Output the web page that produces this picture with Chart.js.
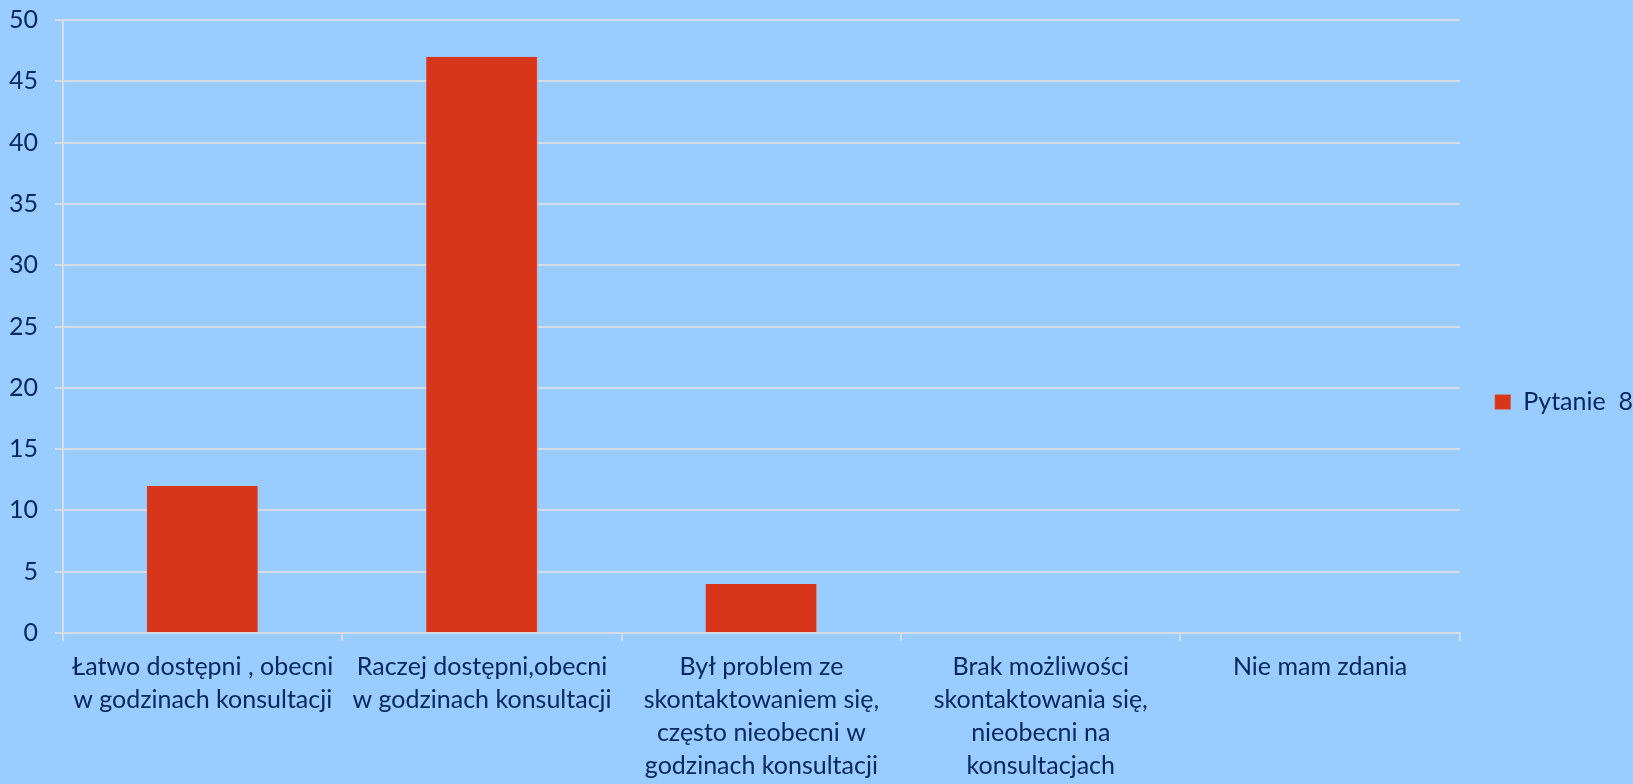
<!DOCTYPE html>
<html><head><meta charset="utf-8">
<script src="https://cdn.jsdelivr.net/npm/chart.js@4"></script>
<style>html,body{margin:0;padding:0;background:#99CCFF;overflow:hidden;} #wrap{width:1633px;height:784px;position:relative;}</style>
</head><body><div id="wrap"><canvas id="c"></canvas></div>
<script>
const categories = [
  ["Łatwo dostępni , obecni", "w godzinach konsultacji"],
  ["Raczej dostępni,obecni", "w godzinach konsultacji"],
  ["Był problem ze", "skontaktowaniem się,", "często nieobecni w", "godzinach konsultacji"],
  ["Brak możliwości", "skontaktowania się,", "nieobecni na", "konsultacjach"],
  ["Nie mam zdania"]
];
const seriesName = "Pytanie  8";
const seriesValues = [12, 47, 4, 0, 0];
const yMin = 0, yMax = 50, yStep = 5;

const textColor = "#0A2860";
const gridColor = "#D5DCE6";
const FONT = "Lato, 'Open Sans', sans-serif";

new Chart(document.getElementById("c"), {
  type: "bar",
  data: {
    labels: categories,
    datasets: [{
      label: seriesName,
      data: seriesValues,
      backgroundColor: "#D8361B",
      borderColor: "#E8A0A8",
      borderWidth: { right: 1, top: 0, left: 0, bottom: 0 },
      borderSkipped: false,
      barPercentage: 0.4,
      categoryPercentage: 1.0
    }]
  },
  options: {
    responsive: true,
    maintainAspectRatio: false,
    animation: false,
    layout: { padding: { left: 0, top: 20, right: -10, bottom: 0 } },
    plugins: {
      tooltip: { enabled: false },
      legend: {
        position: "right",
        align: "center",
        labels: {
          color: textColor,
          font: { family: FONT, size: 25 },
          boxWidth: 16,
          boxHeight: 15,
          padding: 35
        }
      }
    },
    scales: {
      x: {
        afterFit: (s) => { s.height = 151; },
        grid: { drawOnChartArea: false, color: gridColor, lineWidth: 2, tickLength: 8, offset: true },
        border: { color: gridColor, width: 2 },
        ticks: {
          color: textColor,
          font: { family: FONT, size: 25, lineHeight: 1.32 },
          maxRotation: 0, minRotation: 0, autoSkip: false, padding: 9
        }
      },
      y: {
        min: yMin, max: yMax,
        afterFit: (s) => { s.width = 63; s.paddingTop = 0; s.paddingBottom = 0; },
        grid: { color: gridColor, lineWidth: 2, tickLength: 8 },
        border: { color: gridColor, width: 2 },
        ticks: {
          stepSize: yStep,
          color: textColor,
          font: { family: FONT, size: 25 },
          padding: 17
        }
      }
    }
  }
});
</script>
</body></html>
